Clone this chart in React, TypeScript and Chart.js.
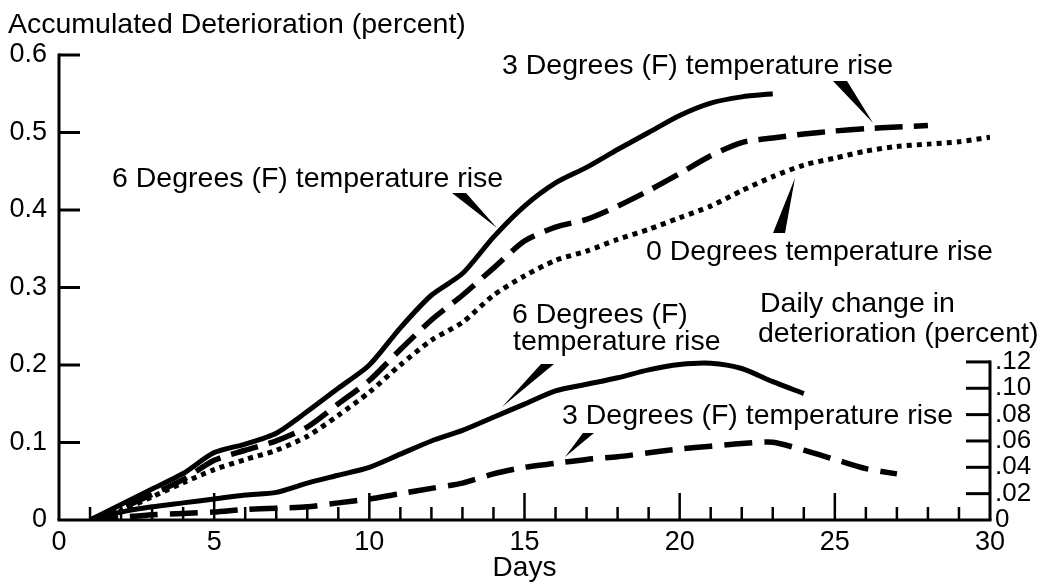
import React, { useEffect, useRef } from "react";
import { Chart, registerables } from "chart.js";

Chart.register(...registerables);

// ---------- data ----------
const DAYS = [1, 2, 3, 4, 5, 6, 7, 8, 9, 10, 11, 12, 13, 14, 15, 16, 17, 18, 19, 20, 21, 22, 23, 24, 25, 26, 27, 28, 29, 30];

// Accumulated deterioration (percent), left axis
const ACCUM_6F = [0, 0.02, 0.04, 0.06, 0.087, 0.098, 0.112, 0.14, 0.17, 0.2, 0.248, 0.29, 0.318, 0.365, 0.405, 0.435, 0.455, 0.478, 0.5, 0.522, 0.538, 0.546, 0.55];
const ACCUM_3F = [0, 0.015, 0.033, 0.052, 0.077, 0.09, 0.102, 0.12, 0.15, 0.18, 0.22, 0.258, 0.29, 0.325, 0.36, 0.378, 0.388, 0.405, 0.425, 0.447, 0.47, 0.487, 0.493, 0.498, 0.502, 0.505, 0.507, 0.509];
const ACCUM_0F = [0, 0.012, 0.03, 0.048, 0.065, 0.078, 0.09, 0.108, 0.135, 0.165, 0.2, 0.232, 0.255, 0.29, 0.315, 0.335, 0.347, 0.362, 0.375, 0.39, 0.405, 0.425, 0.443, 0.458, 0.467, 0.476, 0.482, 0.485, 0.488, 0.494];

// Daily change in deterioration (percent), right axis
const DAILY_6F = [0, 0.006, 0.01, 0.013, 0.016, 0.019, 0.021, 0.028, 0.034, 0.04, 0.05, 0.06, 0.068, 0.078, 0.088, 0.098, 0.103, 0.108, 0.114, 0.118, 0.119, 0.115, 0.105, 0.096];
const DAILY_3F = [0, 0.002, 0.004, 0.005, 0.006, 0.008, 0.009, 0.01, 0.013, 0.016, 0.02, 0.024, 0.028, 0.035, 0.04, 0.043, 0.046, 0.048, 0.051, 0.054, 0.056, 0.058, 0.059, 0.053, 0.046, 0.039, 0.035];

const LEFT_TICKS = [0, 0.1, 0.2, 0.3, 0.4, 0.5, 0.6];
const RIGHT_TICKS = [0, 0.02, 0.04, 0.06, 0.08, 0.1, 0.12];
const X_LABEL_TICKS = [0, 5, 10, 15, 20, 25, 30];

// ---------- annotation texts ----------
const TITLE = "Accumulated Deterioration (percent)";
const X_TITLE = "Days";
const LABELS = [
  { text: "3 Degrees (F) temperature rise", x: 502, y: 64 },
  { text: "6 Degrees (F) temperature rise", x: 112, y: 177 },
  { text: "0 Degrees temperature rise", x: 646, y: 250 },
  { text: "6 Degrees (F)", x: 512, y: 313 },
  { text: "temperature rise", x: 513, y: 340 },
  { text: "Daily change in", x: 760, y: 302 },
  { text: "deterioration (percent)", x: 758, y: 332 },
  { text: "3 Degrees (F) temperature rise", x: 562, y: 414 },
];
const POINTERS = [
  [[833, 81], [847, 81], [873, 123]],
  [[452, 193], [466, 193], [497, 228]],
  [[773, 233], [785, 233], [795, 178]],
  [[541, 364], [554, 364], [502, 407]],
  [[583, 433], [594, 433], [565, 457]],
];

const FONT = '"Liberation Sans", Arial, Helvetica, sans-serif';
const INK = "#000";

const toXY = (vals: number[]) => vals.map((v, i) => ({ x: DAYS[i], y: v }));

const decorPlugin = {
  id: "decor",
  afterDraw(chart: any) {
    const ctx = chart.ctx as CanvasRenderingContext2D;
    const xs = chart.scales.x;
    const yl = chart.scales.y;
    const yr = chart.scales.y2;
    const { left, right } = chart.chartArea;
    const base = yl.getPixelForValue(0);
    ctx.save();
    ctx.strokeStyle = INK;
    ctx.lineCap = "butt";
    // x axis line
    ctx.lineWidth = 3;
    ctx.beginPath();
    ctx.moveTo(left - 1.5, base);
    ctx.lineTo(right + 1.5, base);
    ctx.stroke();
    // left axis line
    ctx.beginPath();
    ctx.moveTo(left, base);
    ctx.lineTo(left, yl.getPixelForValue(0.6) - 1.5);
    ctx.stroke();
    // left ticks (inward)
    LEFT_TICKS.filter((v) => v > 0).forEach((v) => {
      const py = yl.getPixelForValue(v);
      ctx.beginPath();
      ctx.moveTo(left, py);
      ctx.lineTo(left + 21, py);
      ctx.stroke();
    });
    // right axis line
    const rTop = yr.getPixelForValue(0.12);
    ctx.beginPath();
    ctx.moveTo(right, base);
    ctx.lineTo(right, rTop - 1.5);
    ctx.stroke();
    RIGHT_TICKS.filter((v) => v > 0).forEach((v) => {
      const py = yr.getPixelForValue(v);
      ctx.beginPath();
      ctx.moveTo(right, py);
      ctx.lineTo(right - 24, py);
      ctx.stroke();
    });
    // x ticks (inward, every day)
    ctx.lineWidth = 2.5;
    for (let d = 1; d < 30; d++) {
      const px = xs.getPixelForValue(d);
      const len = d % 5 === 0 ? 27 : 13;
      ctx.beginPath();
      ctx.moveTo(px, base);
      ctx.lineTo(px, base - len);
      ctx.stroke();
    }
    // pointers
    ctx.fillStyle = INK;
    POINTERS.forEach((tri) => {
      ctx.beginPath();
      ctx.moveTo(tri[0][0], tri[0][1]);
      ctx.lineTo(tri[1][0], tri[1][1]);
      ctx.lineTo(tri[2][0], tri[2][1]);
      ctx.closePath();
      ctx.fill();
    });
    // texts
    ctx.font = `28.5px ${FONT}`;
    ctx.textAlign = "left";
    ctx.textBaseline = "alphabetic";
    ctx.fillText(TITLE, 8, 33);
    LABELS.forEach((l) => ctx.fillText(l.text, l.x, l.y + 10));
    ctx.restore();
  },
};

export default function App() {
  const ref = useRef<HTMLCanvasElement | null>(null);
  useEffect(() => {
    if (!ref.current) return;
    const lineBase = {
      borderColor: INK,
      pointRadius: 0,
      fill: false,
      tension: 0.25,
      borderCapStyle: "butt" as const,
      borderJoinStyle: "round" as const,
    };
    const chart = new Chart(ref.current, {
      type: "line",
      data: {
        datasets: [
          { ...lineBase, label: "6F accumulated", data: toXY(ACCUM_6F), borderWidth: 5, yAxisID: "y" },
          { ...lineBase, label: "3F accumulated", data: toXY(ACCUM_3F), borderWidth: 5.5, borderDash: [28, 11], yAxisID: "y" },
          { ...lineBase, label: "0F accumulated", data: toXY(ACCUM_0F), borderWidth: 5, borderDash: [5, 5], yAxisID: "y" },
          { ...lineBase, label: "6F daily", data: toXY(DAILY_6F), borderWidth: 5, yAxisID: "y2" },
          { ...lineBase, label: "3F daily", data: toXY(DAILY_3F), borderWidth: 5.5, borderDash: [28, 12], yAxisID: "y2" },
        ],
      },
      options: {
        responsive: false,
        animation: false,
        events: [],
        layout: { padding: { top: 55, left: 0, right: 0, bottom: 0 } },
        plugins: { legend: { display: false }, tooltip: { enabled: false }, title: { display: false } },
        scales: {
          x: {
            type: "linear",
            min: 0,
            max: 30,
            afterFit: (s: any) => { s.height = 63; },
            afterBuildTicks: (s: any) => { s.ticks = X_LABEL_TICKS.map((v) => ({ value: v })); },
            grid: { display: false, drawTicks: false },
            border: { display: false },
            ticks: { color: INK, font: { family: FONT, size: 27 }, padding: 6, maxRotation: 0, autoSkip: false },
            title: { display: true, text: X_TITLE, color: INK, font: { family: FONT, size: 28, lineHeight: 1 }, padding: { top: 0, bottom: 1 } },
          },
          y: {
            type: "linear",
            position: "left",
            min: 0,
            max: 0.6,
            afterFit: (s: any) => { s.width = 59; },
            afterBuildTicks: (s: any) => { s.ticks = LEFT_TICKS.map((v) => ({ value: v })); },
            grid: { display: false, drawTicks: false },
            border: { display: false },
            ticks: {
              color: INK,
              font: { family: FONT, size: 27 },
              padding: 12,
              autoSkip: false,
              callback: (v: any) => (Number(v) === 0 ? "0" : Number(v).toFixed(1)),
            },
          },
          y2: {
            type: "linear",
            position: "right",
            min: 0,
            max: 0.353,
            afterFit: (s: any) => { s.width = 64; },
            afterBuildTicks: (s: any) => { s.ticks = RIGHT_TICKS.map((v) => ({ value: v })); },
            grid: { display: false, drawTicks: false },
            border: { display: false },
            ticks: {
              color: INK,
              font: { family: FONT, size: 26 },
              padding: 5,
              autoSkip: false,
              callback: (v: any) => {
                const n = Number(v);
                if (n === 0) return "0";
                return "." + String(Math.round(n * 100)).padStart(2, "0");
              },
            },
          },
        },
      },
      plugins: [decorPlugin],
    });
    return () => chart.destroy();
  }, []);
  return (
    <div style={{ position: "fixed", left: 0, top: 0, width: 1054, height: 583, background: "#fff" }}>
      <canvas ref={ref} width={1054} height={583} style={{ display: "block" }} />
    </div>
  );
}
